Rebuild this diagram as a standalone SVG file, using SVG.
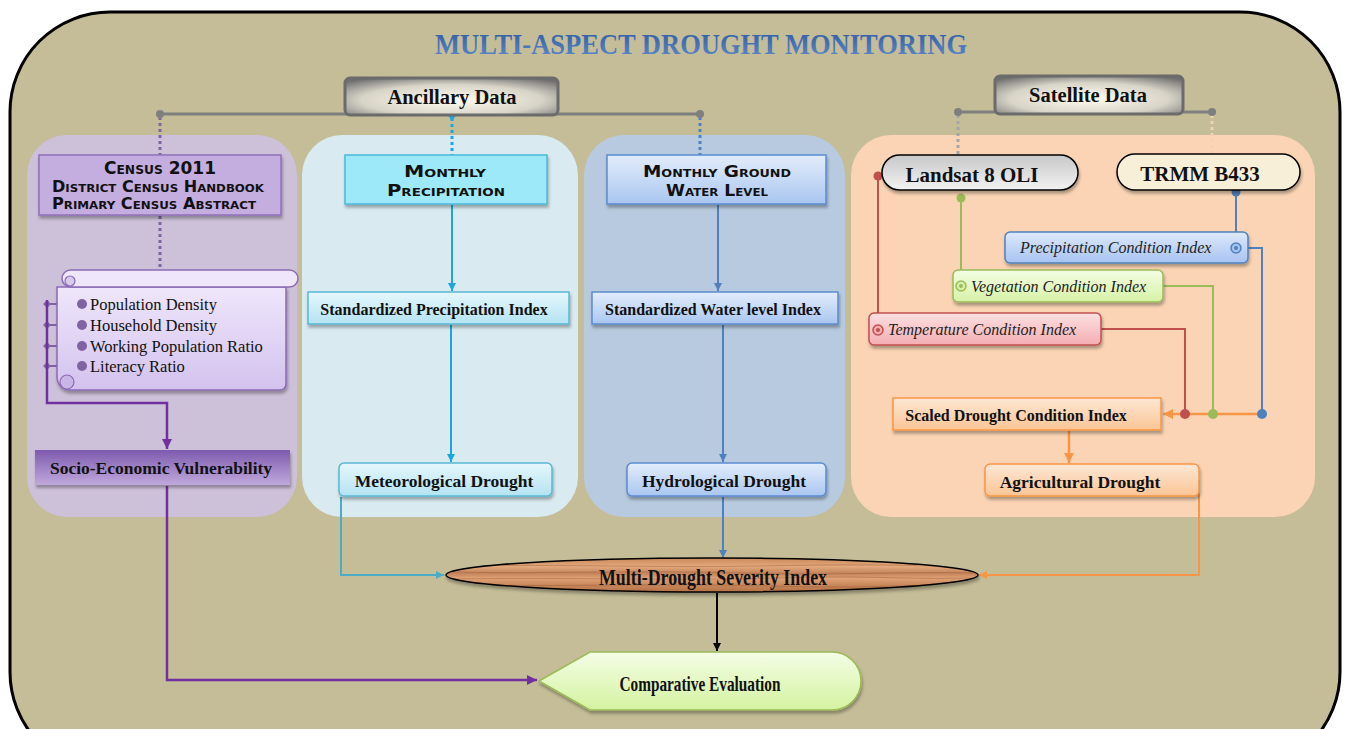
<svg xmlns="http://www.w3.org/2000/svg" width="1346" height="729" viewBox="0 0 1346 729">
<defs>
<style>
.t{font-family:"Liberation Serif","Times New Roman",serif;fill:#111}
.b{font-weight:bold}
.sc{font-family:"DejaVu Sans","Liberation Sans",Arial,sans-serif;font-weight:bold;font-variant:small-caps;fill:#111}
.it{font-family:"Liberation Serif","Times New Roman",serif;font-style:italic;fill:#222}
.cond{font-family:"Liberation Serif","Times New Roman",serif;font-weight:bold;fill:#111}
</style>
<linearGradient id="gBtnV" x1="0" y1="0" x2="0" y2="1"><stop offset="0" stop-color="#6f6f6f"/><stop offset="0.5" stop-color="#f5f3ea"/><stop offset="1" stop-color="#7a7a7a"/></linearGradient>
<radialGradient id="gBtn" cx="0.5" cy="0.6" r="0.7"><stop offset="0" stop-color="#fffdf0"/><stop offset="0.6" stop-color="#d8d5c8"/><stop offset="1" stop-color="#6f6f6f"/></radialGradient>
<linearGradient id="gSocio" x1="0" y1="0" x2="0" y2="1"><stop offset="0" stop-color="#7e5aae"/><stop offset="1" stop-color="#c0a9dc"/></linearGradient>
<linearGradient id="gCyan" x1="0" y1="0" x2="0" y2="1"><stop offset="0" stop-color="#e6f7fc"/><stop offset="1" stop-color="#b4e3f2"/></linearGradient>
<linearGradient id="gBlue" x1="0" y1="0" x2="0" y2="1"><stop offset="0" stop-color="#e3edfb"/><stop offset="1" stop-color="#a9c6f0"/></linearGradient>
<linearGradient id="gPCI" x1="0" y1="0" x2="0" y2="1"><stop offset="0" stop-color="#dfe9fb"/><stop offset="1" stop-color="#a6c3f1"/></linearGradient>
<linearGradient id="gVCI" x1="0" y1="0" x2="0" y2="1"><stop offset="0" stop-color="#f4fde3"/><stop offset="1" stop-color="#d6f2a6"/></linearGradient>
<linearGradient id="gTCI" x1="0" y1="0" x2="0" y2="1"><stop offset="0" stop-color="#fde0e1"/><stop offset="1" stop-color="#f3aeb3"/></linearGradient>
<linearGradient id="gOr" x1="0" y1="0" x2="0" y2="1"><stop offset="0" stop-color="#fde7d4"/><stop offset="1" stop-color="#fbc596"/></linearGradient>
<linearGradient id="gLand" x1="0" y1="0" x2="0" y2="1"><stop offset="0" stop-color="#c8c8c8"/><stop offset="1" stop-color="#f2f2f2"/></linearGradient>
<linearGradient id="gWood" x1="0" y1="0" x2="0" y2="1"><stop offset="0" stop-color="#c98a5c"/><stop offset="0.25" stop-color="#e3a87c"/><stop offset="0.45" stop-color="#c4845a"/><stop offset="0.6" stop-color="#e0a276"/><stop offset="0.8" stop-color="#c7875b"/><stop offset="1" stop-color="#b57246"/></linearGradient>
<linearGradient id="gComp" x1="0" y1="0" x2="0" y2="1"><stop offset="0" stop-color="#f4fde6"/><stop offset="1" stop-color="#d4f3a0"/></linearGradient>
<linearGradient id="gTitle" x1="0" y1="0" x2="0" y2="1"><stop offset="0" stop-color="#2a57a0"/><stop offset="1" stop-color="#5f8ccb"/></linearGradient>
<linearGradient id="gScroll" x1="0" y1="0" x2="0" y2="1"><stop offset="0" stop-color="#efe6fb"/><stop offset="1" stop-color="#d3c2ee"/></linearGradient>
<clipPath id="clipE"><ellipse cx="712" cy="575" rx="265" ry="16"/></clipPath>
<marker id="aPur" viewBox="0 0 10 10" refX="10" refY="5" markerWidth="4" markerHeight="4" orient="auto"><path d="M0,0 L10,5 L0,10 z" fill="#7030a0"/></marker>
<marker id="aCyan" viewBox="0 0 10 10" refX="10" refY="5" markerWidth="4" markerHeight="4" orient="auto"><path d="M0,0 L10,5 L0,10 z" fill="#1aa7e0"/></marker>
<marker id="aCyan2" viewBox="0 0 10 10" refX="10" refY="5" markerWidth="4" markerHeight="4" orient="auto"><path d="M0,0 L10,5 L0,10 z" fill="#4bacc6"/></marker>
<marker id="aBlue" viewBox="0 0 10 10" refX="10" refY="5" markerWidth="4" markerHeight="4" orient="auto"><path d="M0,0 L10,5 L0,10 z" fill="#4f81bd"/></marker>
<marker id="aOr" viewBox="0 0 10 10" refX="10" refY="5" markerWidth="4" markerHeight="4" orient="auto"><path d="M0,0 L10,5 L0,10 z" fill="#f79646"/></marker>
<marker id="aBlk" viewBox="0 0 10 10" refX="10" refY="5" markerWidth="4" markerHeight="4" orient="auto"><path d="M0,0 L10,5 L0,10 z" fill="#000"/></marker>
<filter id="sh" x="-10%" y="-20%" width="120%" height="150%"><feDropShadow dx="1" dy="3" stdDeviation="1.5" flood-color="#000" flood-opacity="0.3"/></filter>
</defs>

<rect width="1346" height="729" fill="#fff"/>
<g id="frame">
<rect x="10" y="12" width="1330" height="760" rx="100" ry="100" fill="#c4bd97" stroke="#000" stroke-width="3"/>
</g>
<g id="title">
<text x="701" y="54" text-anchor="middle" font-family="Liberation Serif, Times New Roman, serif" font-weight="bold" font-size="30" textLength="532" lengthAdjust="spacingAndGlyphs" fill="url(#gTitle)">MULTI-ASPECT DROUGHT MONITORING</text>
</g>

<g id="panels">
<rect x="27" y="135" width="270" height="382" rx="40" fill="#cdc0d9"/>
<rect x="302" y="135" width="276" height="382" rx="40" fill="#d9eaf0"/>
<rect x="584" y="135" width="261" height="382" rx="40" fill="#b7cadf"/>
<rect x="851" y="135" width="464" height="382" rx="40" fill="#fad4b4"/>
</g>

<g id="connectors" fill="none">
<line x1="160" y1="114" x2="700" y2="114" stroke="#7f7f7f" stroke-width="3"/>
<line x1="160" y1="117" x2="160" y2="155" stroke="#8064a2" stroke-width="3" stroke-dasharray="3,3"/>
<line x1="452" y1="118" x2="452" y2="155" stroke="#1aa7e0" stroke-width="3" stroke-dasharray="3,3"/>
<line x1="700" y1="117" x2="700" y2="155" stroke="#4f81bd" stroke-width="3" stroke-dasharray="3,3"/>
<circle cx="160" cy="114" r="4" fill="#7f7f7f"/>
<circle cx="700" cy="114" r="4" fill="#7f7f7f"/>
<path d="M447,114 a5,5 0 0 1 10,0 l-5,7 z" fill="#1aa7e0"/>
<line x1="958" y1="112" x2="1212" y2="112" stroke="#7f7f7f" stroke-width="3"/>
<line x1="958" y1="115" x2="958" y2="155" stroke="#a5a5a5" stroke-width="3" stroke-dasharray="3,3"/>
<line x1="1212" y1="115" x2="1212" y2="154" stroke="#f2d2b0" stroke-width="3" stroke-dasharray="3,3"/>
<circle cx="958" cy="112" r="4" fill="#7f7f7f"/>
<circle cx="1212" cy="112" r="4" fill="#7f7f7f"/>
<line x1="160" y1="216" x2="160" y2="268" stroke="#8064a2" stroke-width="3" stroke-dasharray="3,3"/>
<g stroke="#8064a2" stroke-width="2">
<line x1="47" y1="304" x2="82" y2="304"/>
<line x1="47" y1="325" x2="82" y2="325"/>
<line x1="47" y1="346" x2="82" y2="346"/>
<line x1="47" y1="366" x2="82" y2="366"/>
</g>
<g fill="#8064a2">
<path d="M47,300 l4,4 l-4,4 l-4,-4 z"/>
<path d="M47,321 l4,4 l-4,4 l-4,-4 z"/>
<path d="M47,342 l4,4 l-4,4 l-4,-4 z"/>
<path d="M47,362 l4,4 l-4,4 l-4,-4 z"/>
</g>
<path d="M47,300 V403 H167 V449" stroke="#7030a0" stroke-width="2.5" marker-end="url(#aPur)"/>
<path d="M167,486 V680 H537" stroke="#7030a0" stroke-width="2.5" marker-end="url(#aPur)"/>
<line x1="452" y1="205" x2="452" y2="291" stroke="#1aa7e0" stroke-width="2" marker-end="url(#aCyan)"/>
<line x1="451" y1="325" x2="451" y2="462" stroke="#1aa7e0" stroke-width="2" marker-end="url(#aCyan)"/>
<path d="M341,497 V575 H444" stroke="#4bacc6" stroke-width="2" marker-end="url(#aCyan2)"/>
<line x1="718" y1="205" x2="718" y2="291" stroke="#4f81bd" stroke-width="2" marker-end="url(#aBlue)"/>
<line x1="723" y1="325" x2="723" y2="462" stroke="#4f81bd" stroke-width="2" marker-end="url(#aBlue)"/>
<line x1="723" y1="497" x2="723" y2="558" stroke="#4f81bd" stroke-width="2" marker-end="url(#aBlue)"/>
<line x1="878" y1="176" x2="878" y2="330" stroke="#c0504d" stroke-width="2"/>
<circle cx="878" cy="176" r="4.5" fill="#c0504d"/>
<line x1="961" y1="198" x2="961" y2="286" stroke="#9bbb59" stroke-width="2"/>
<circle cx="961" cy="198" r="4.5" fill="#9bbb59"/>
<line x1="1236" y1="192" x2="1236" y2="248" stroke="#4f81bd" stroke-width="2"/>
<circle cx="1236" cy="192" r="4.5" fill="#4f81bd"/>
<path d="M1248,248 H1262 V414" stroke="#4f81bd" stroke-width="2"/>
<path d="M1163,286 H1213 V414" stroke="#9bbb59" stroke-width="2"/>
<path d="M1101,329 H1185 V414" stroke="#c0504d" stroke-width="2"/>
<line x1="1262" y1="414" x2="1163" y2="414" stroke="#f79646" stroke-width="2.5" marker-end="url(#aOr)"/>
<circle cx="1185" cy="414" r="5" fill="#c0504d"/>
<circle cx="1213" cy="414" r="5" fill="#9bbb59"/>
<circle cx="1262" cy="414" r="5" fill="#4f81bd"/>
<line x1="1069" y1="431" x2="1069" y2="463" stroke="#f79646" stroke-width="2.5" marker-end="url(#aOr)"/>
<path d="M1199,480 V575 H979" stroke="#f79646" stroke-width="2" marker-end="url(#aOr)"/>
<line x1="717" y1="593" x2="717" y2="651" stroke="#000" stroke-width="2" marker-end="url(#aBlk)"/>
</g>

<g id="ancillary">
<rect x="345" y="78" width="213" height="37" rx="5" fill="url(#gBtn)" stroke="#6b6b6b" stroke-width="3"/>
<text x="452" y="104" text-anchor="middle" class="t b" font-size="20.5">Ancillary Data</text>
</g>
<g id="satellite">
<rect x="995" y="76" width="188" height="38" rx="5" fill="url(#gBtn)" stroke="#6b6b6b" stroke-width="3"/>
<text x="1088" y="102" text-anchor="middle" class="t b" font-size="20.5">Satellite Data</text>
</g>

<g id="census">
<rect x="39" y="155" width="242" height="60" fill="#c4aee0" stroke="#8f6fb8" stroke-width="1.5" filter="url(#sh)"/>
<text x="160" y="174" text-anchor="middle" class="sc" font-size="18" textLength="112" lengthAdjust="spacingAndGlyphs">Census 2011</text>
<text x="158" y="192" text-anchor="middle" class="sc" font-size="15" textLength="212" lengthAdjust="spacingAndGlyphs">District Census Handbook</text>
<text x="154" y="209" text-anchor="middle" class="sc" font-size="15" textLength="204" lengthAdjust="spacingAndGlyphs">Primary Census Abstract</text>
</g>

<g id="scroll">
<path d="M57,287 H286 V384 a6,6 0 0 1 -6,6 H70 a13,13 0 0 1 -13,-13 Z" fill="url(#gScroll)" stroke="#8a6bb5" stroke-width="1.5" filter="url(#sh)"/>
<rect x="62" y="270" width="236" height="17" rx="8.5" fill="#efe6fb" stroke="#8a6bb5" stroke-width="1.5"/>
<circle cx="70" cy="281" r="5" fill="#d8c9ef" stroke="#8a6bb5" stroke-width="1.2"/>
<circle cx="67" cy="382" r="7" fill="#c9b6e6" stroke="#8a6bb5" stroke-width="1.2"/>
<g fill="#8064a2">
<circle cx="82" cy="304" r="5"/><circle cx="82" cy="325" r="5"/><circle cx="82" cy="346" r="5"/><circle cx="82" cy="366" r="5"/>
</g>
<text x="90" y="310" class="t" font-size="16.5">Population Density</text>
<text x="90" y="331" class="t" font-size="16.5">Household Density</text>
<text x="90" y="352" class="t" font-size="16.5">Working Population Ratio</text>
<text x="90" y="372" class="t" font-size="16.5">Literacy Ratio</text>
</g>

<g id="socio">
<rect x="35" y="450" width="255" height="35" fill="url(#gSocio)" filter="url(#sh)"/>
<text x="161" y="474" text-anchor="middle" class="t b" font-size="17.5">Socio-Economic Vulnerability</text>
</g>

<g id="monthly-precip">
<rect x="345" y="155" width="202" height="49" fill="#9ee9f9" stroke="#4ab8d8" stroke-width="1.5" filter="url(#sh)"/>
<text x="445" y="177" text-anchor="middle" class="sc" font-size="16" textLength="82" lengthAdjust="spacingAndGlyphs">Monthly</text>
<text x="446" y="196" text-anchor="middle" class="sc" font-size="16" textLength="118" lengthAdjust="spacingAndGlyphs">Precipitation</text>
</g>
<g id="spi">
<rect x="308" y="292" width="261" height="32" fill="url(#gCyan)" stroke="#5ab8d2" stroke-width="1.5" filter="url(#sh)"/>
<text x="434" y="315" text-anchor="middle" class="t b" font-size="16">Standardized Precipitation Index</text>
</g>
<g id="meteo">
<rect x="339" y="463" width="213" height="33" rx="5" fill="url(#gCyan)" stroke="#5ab8d2" stroke-width="1.5" filter="url(#sh)"/>
<text x="444" y="487" text-anchor="middle" class="t b" font-size="17.5">Meteorological Drought</text>
</g>

<g id="monthly-gw">
<rect x="607" y="155" width="219" height="49" fill="url(#gBlue)" stroke="#5b8ad0" stroke-width="1.5" filter="url(#sh)"/>
<text x="717" y="177" text-anchor="middle" class="sc" font-size="16" textLength="148" lengthAdjust="spacingAndGlyphs">Monthly Ground</text>
<text x="717" y="196" text-anchor="middle" class="sc" font-size="16" textLength="102" lengthAdjust="spacingAndGlyphs">Water Level</text>
</g>
<g id="swi">
<rect x="592" y="292" width="246" height="32" fill="url(#gBlue)" stroke="#5b8ad0" stroke-width="1.5" filter="url(#sh)"/>
<text x="713" y="315" text-anchor="middle" class="t b" font-size="16">Standardized Water level Index</text>
</g>
<g id="hydro">
<rect x="627" y="463" width="199" height="33" rx="5" fill="url(#gBlue)" stroke="#5b8ad0" stroke-width="1.5" filter="url(#sh)"/>
<text x="724" y="487" text-anchor="middle" class="t b" font-size="17.5">Hydrological Drought</text>
</g>

<g id="landsat">
<rect x="882" y="155" width="196" height="35" rx="17.5" fill="url(#gLand)" stroke="#000" stroke-width="1.5" filter="url(#sh)"/>
<text x="972" y="182" text-anchor="middle" class="t b" font-size="21">Landsat 8 OLI</text>
</g>
<g id="trmm">
<rect x="1117" y="154" width="183" height="36" rx="18" fill="#f8efd8" stroke="#000" stroke-width="1.5" filter="url(#sh)"/>
<text x="1200" y="181" text-anchor="middle" class="t b" font-size="21">TRMM B433</text>
</g>

<g id="pci">
<rect x="1005" y="232" width="243" height="31" rx="5" fill="url(#gPCI)" stroke="#4f81bd" stroke-width="1.5" filter="url(#sh)"/>
<text x="1020" y="253" class="it" font-size="16">Precipitation Condition Index</text>
<circle cx="1236" cy="248" r="5" fill="#a6c3f1" stroke="#4f81bd" stroke-width="1.5"/><circle cx="1236" cy="248" r="2" fill="#4f81bd"/>
</g>
<g id="vci">
<rect x="953" y="270" width="210" height="32" rx="5" fill="url(#gVCI)" stroke="#9bbb59" stroke-width="1.5" filter="url(#sh)"/>
<text x="971" y="292" class="it" font-size="16">Vegetation Condition Index</text>
<circle cx="961" cy="286" r="5" fill="#d6f2a6" stroke="#9bbb59" stroke-width="1.5"/><circle cx="961" cy="286" r="2" fill="#9bbb59"/>
</g>
<g id="tci">
<rect x="869" y="313" width="232" height="32" rx="5" fill="url(#gTCI)" stroke="#c0504d" stroke-width="1.5" filter="url(#sh)"/>
<text x="888" y="335" class="it" font-size="16">Temperature Condition Index</text>
<circle cx="878" cy="330" r="5" fill="#f3aeb3" stroke="#c0504d" stroke-width="1.5"/><circle cx="878" cy="330" r="2" fill="#c0504d"/>
</g>
<g id="sdci">
<rect x="893" y="398" width="268" height="32" fill="url(#gOr)" stroke="#f79646" stroke-width="1.5" filter="url(#sh)"/>
<text x="1016" y="421" text-anchor="middle" class="t b" font-size="16">Scaled Drought Condition Index</text>
</g>
<g id="agri">
<rect x="985" y="464" width="214" height="32" rx="5" fill="url(#gOr)" stroke="#f79646" stroke-width="1.5" filter="url(#sh)"/>
<text x="1080" y="488" text-anchor="middle" class="t b" font-size="17.5">Agricultural Drought</text>
</g>

<g id="mdsi">
<ellipse cx="712" cy="575" rx="266" ry="17" fill="url(#gWood)" stroke="#000" stroke-width="1.5" filter="url(#sh)"/>
<g clip-path="url(#clipE)" stroke="#8a4f2a" stroke-opacity="0.35" stroke-width="1" fill="none">
<path d="M450,566 C560,564 660,568 760,566 S900,565 975,567"/>
<path d="M450,572 C540,574 640,570 740,573 S900,571 975,573"/>
<path d="M450,579 C560,577 680,581 780,578 S900,580 975,578"/>
<path d="M450,585 C560,587 660,583 770,586 S900,584 975,586"/>
</g>
<text x="713" y="585" text-anchor="middle" class="cond" font-size="24" textLength="228" lengthAdjust="spacingAndGlyphs">Multi-Drought Severity Index</text>
</g>

<g id="comparative">
<path d="M539,681 L590,652 H832 a29,29 0 0 1 0,58 H590 Z" fill="url(#gComp)" stroke="#9bbb59" stroke-width="1.5" filter="url(#sh)"/>
<text x="700" y="691" text-anchor="middle" class="cond" font-size="22" textLength="161" lengthAdjust="spacingAndGlyphs">Comparative Evaluation</text>
</g>
</svg>
